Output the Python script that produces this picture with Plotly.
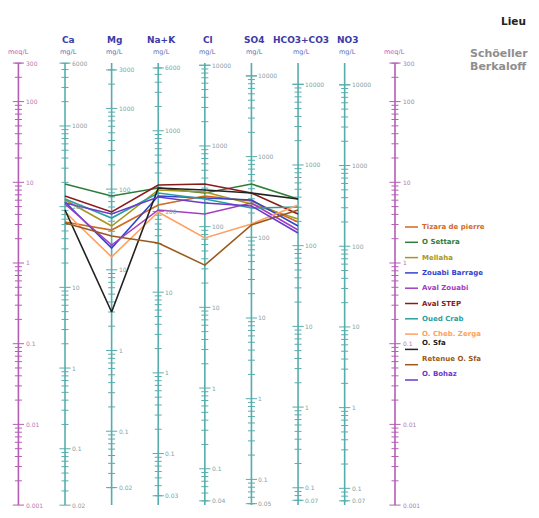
import numpy as np
import plotly.graph_objects as go

# Ion axes of the Schoeller-Berkaloff diagram (mg/L scales tied to a common meq/L scale)
ions = ["Ca", "Mg", "Na+K", "Cl", "SO4", "HCO3+CO3", "NO3"]
eq_weight = [20.04, 12.15, 22.99, 35.45, 48.03, 61.02, 62.00]
top_labels = ["6000", "3000", "6000", "10000", "10000", "10000", "10000"]
bottom_labels = ["0.02", "0.02", "0.03", "0.04", "0.05", "0.07", "0.07"]
meq_labels = ["300", "100", "10", "1", "0.1", "0.01", "0.001"]
meq_min, meq_max = 0.001, 300.0

# Sampling sites (concentrations in meq/L for Ca, Mg, Na+K, Cl, SO4, HCO3+CO3)
sites = ["Tizara de pierre", "O Settara", "Mellaha", "Zouabi Barrage", "Aval Zouabi",
         "Aval STEP", "Oued Crab", "O. Cheb. Zerga", "O. Sfa", "Retenue O. Sfa", "O. Bohaz"]
colors = ["#d2691e", "#2f7d3a", "#a8961e", "#3344cc", "#a040c0",
          "#8b1a1a", "#2aa0a0", "#ffa060", "#222222", "#9a5a1c", "#6a3acb"]

tizara = [3.22, 2.56, 5.23, 6.76, 5.87, 3.22]
settara = [9.53, 6.76, 8.50, 7.37, 9.53, 6.21]
mellaha = [6.04, 2.87, 8.03, 7.58, 5.38, 3.51]
zouabi_barrage = [5.70, 1.53, 6.76, 6.39, 6.04, 2.87]
aval_zouabi = [5.38, 1.67, 4.54, 4.05, 5.54, 2.56]
aval_step = [6.76, 4.29, 9.26, 9.53, 7.37, 4.05]
oued_crab = [6.21, 3.61, 7.37, 6.21, 4.80, 4.94]
cheb_zerga = [4.29, 1.19, 4.29, 2.04, 3.04, 5.23]
o_sfa = [4.54, 0.247, 8.50, 8.03, 7.37, 6.21]
retenue_sfa = [3.13, 2.16, 1.77, 0.94, 2.96, 4.54]
o_bohaz = [5.54, 4.05, 6.57, 5.54, 5.09, 2.35]
series = [tizara, settara, mellaha, zouabi_barrage, aval_zouabi, aval_step,
          oued_crab, cheb_zerga, o_sfa, retenue_sfa, o_bohaz]

W, H = 539, 518
ION_COLOR = "#56adad"
ION_TXT = "#829f9f"
MEQ_COLOR = "#b45eb4"
MEQ_TXT = "#b07ab0"
FONT = "DejaVu Sans"

x_ion = list(range(1, len(ions) + 1))
x_meq_left, x_meq_right = 0.0, 8.08
X_RANGE = [-0.395, 11.17]
Y_RANGE = [-3.16, 3.259]


def px_x(px):
    return px / W


def px_y(px):
    return 1 - px / H


fig = go.Figure()


def log_ticks(lo, hi):
    major, minor = [], []
    for n in range(-4, 6):
        for k in range(1, 10):
            v = k * 10.0 ** n
            if lo * 0.999 <= v <= hi * 1.001:
                (major if k == 1 else minor).append(v)
    return major, minor


annotations = []

# meq/L scales on both sides
for xm in (x_meq_left, x_meq_right):
    fig.add_trace(go.Scatter(x=[xm, xm], y=[meq_min, meq_max], mode="lines",
                             line=dict(color=MEQ_COLOR, width=1.6),
                             hoverinfo="skip", showlegend=False))
    major, minor = log_ticks(meq_min, meq_max)
    fig.add_trace(go.Scatter(x=[xm] * len(minor), y=minor, mode="markers",
                             marker=dict(symbol="line-ew", size=5,
                                         line=dict(color=MEQ_COLOR, width=1)),
                             hoverinfo="skip", showlegend=False))
    major_vals = major + [meq_max]
    fig.add_trace(go.Scatter(x=[xm] * len(major_vals), y=major_vals, mode="markers",
                             marker=dict(symbol="line-ew", size=8,
                                         line=dict(color=MEQ_COLOR, width=1)),
                             hoverinfo="skip", showlegend=False))
    for lab in meq_labels:
        annotations.append(dict(x=xm, y=np.log10(float(lab)), xref="x", yref="y",
                                text=lab, showarrow=False, xanchor="left", xshift=6,
                                font=dict(family=FONT, size=6, color=MEQ_TXT)))
    annotations.append(dict(x=xm, y=px_y(46), xref="x", yref="paper", text="meq/L",
                            showarrow=False, font=dict(family=FONT, size=6.5, color=MEQ_COLOR)))

# mg/L scales for each ion
for xi, ion, w, tl, bl in zip(x_ion, ions, eq_weight, top_labels, bottom_labels):
    lo_mg, hi_mg = meq_min * w, meq_max * w
    fig.add_trace(go.Scatter(x=[xi, xi], y=[meq_min, meq_max], mode="lines",
                             line=dict(color=ION_COLOR, width=1.6),
                             hoverinfo="skip", showlegend=False))
    major, minor = log_ticks(lo_mg, hi_mg)
    fig.add_trace(go.Scatter(x=[xi] * len(minor), y=[v / w for v in minor], mode="markers",
                             marker=dict(symbol="line-ew", size=5,
                                         line=dict(color=ION_COLOR, width=1)),
                             hoverinfo="skip", showlegend=False))
    ends = [float(tl), float(bl)]
    fig.add_trace(go.Scatter(x=[xi] * (len(major) + 2), y=[v / w for v in major + ends],
                             mode="markers",
                             marker=dict(symbol="line-ew", size=8,
                                         line=dict(color=ION_COLOR, width=1)),
                             hoverinfo="skip", showlegend=False))
    labels = [(v, "%g" % v) for v in major if 0.05 < v < 5000] + [(ends[0], tl), (ends[1], bl)]
    for v, txt in labels:
        annotations.append(dict(x=xi, y=np.log10(v / w), xref="x", yref="y",
                                text=txt, showarrow=False, xanchor="left", xshift=5,
                                font=dict(family=FONT, size=6, color=ION_TXT)))
    annotations.append(dict(x=xi, y=px_y(33), xref="x", yref="paper", text="<b>%s</b>" % ion,
                            showarrow=False, xshift=3,
                            font=dict(family=FONT, size=9, color="#3b3ba8")))
    annotations.append(dict(x=xi, y=px_y(46), xref="x", yref="paper", text="mg/L",
                            showarrow=False, xshift=3,
                            font=dict(family=FONT, size=6.5, color="#5a6fb8")))

# One polyline per site across the ion axes
for name, col, vals in zip(sites, colors, series):
    fig.add_trace(go.Scatter(x=x_ion[:len(vals)], y=vals, mode="lines", name=name,
                             line=dict(color=col, width=1.6), showlegend=False))

# Hand-placed legend
shapes = []
for i, (name, col) in enumerate(zip(sites, colors)):
    yp = 227 + i * 15.3
    shapes.append(dict(type="line", xref="paper", yref="paper",
                       x0=px_x(405), x1=px_x(418), y0=px_y(yp), y1=px_y(yp),
                       line=dict(color=col, width=1.5)))
    annotations.append(dict(x=px_x(420), y=px_y(yp), xref="paper", yref="paper",
                            text="<b>%s</b>" % name, showarrow=False, xanchor="left",
                            font=dict(family=FONT, size=7, color=col)))

annotations.append(dict(x=px_x(499), y=px_y(13), xref="paper", yref="paper",
                        text="<b>Lieu</b>", showarrow=False, xanchor="left",
                        font=dict(family=FONT, size=10.5, color="#222222")))
annotations.append(dict(x=px_x(468), y=px_y(45), xref="paper", yref="paper",
                        text="<b>Schöeller</b>", showarrow=False, xanchor="left",
                        font=dict(family=FONT, size=11, color="#8e8e8e")))
annotations.append(dict(x=px_x(468), y=px_y(58), xref="paper", yref="paper",
                        text="<b>Berkaloff</b>", showarrow=False, xanchor="left",
                        font=dict(family=FONT, size=11, color="#8e8e8e")))

fig.update_layout(
    width=W, height=H,
    margin=dict(l=0, r=0, t=0, b=0),
    paper_bgcolor="white", plot_bgcolor="white",
    xaxis=dict(range=X_RANGE, visible=False, fixedrange=True),
    yaxis=dict(type="log", range=Y_RANGE, visible=False, fixedrange=True),
    annotations=annotations, shapes=shapes,
    showlegend=False,
)

fig.write_html("out.html")
